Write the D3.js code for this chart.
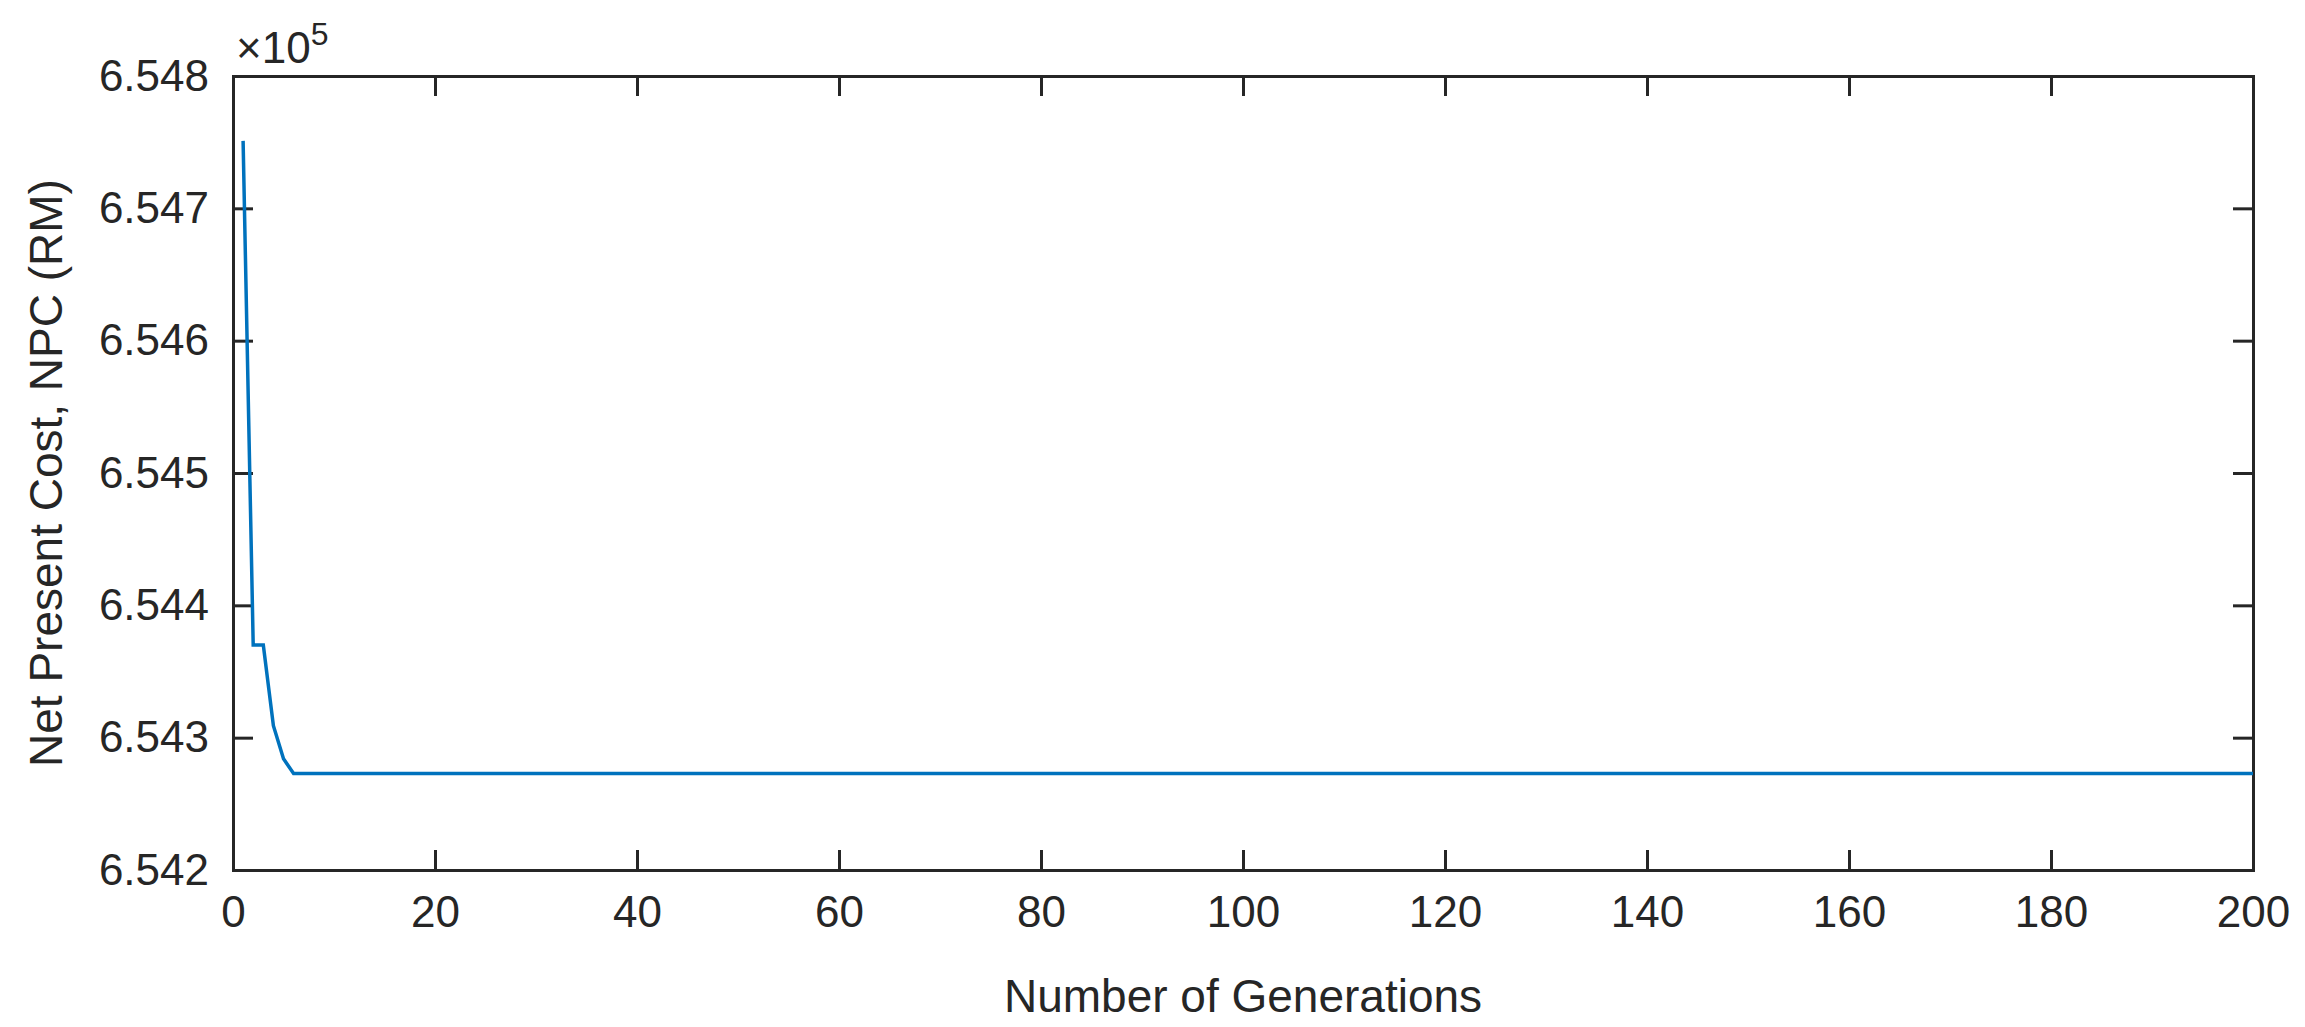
<!DOCTYPE html>
<html><head><meta charset="utf-8">
<script src="https://cdn.jsdelivr.net/npm/d3@7"></script>
<style>body{margin:0;background:#fff}svg{display:block}text{font-family:Arial,"Liberation Sans",sans-serif;fill:#262626}</style>
</head><body>
<script>
const generations = d3.range(1, 201);
const npcHead = [6.54751, 6.5437, 6.5437, 6.54309, 6.54284];
const npcFinal = 6.54273;
const npc = generations.map((g, i) => i < npcHead.length ? npcHead[i] : npcFinal);
const xTicks = [0,20,40,60,80,100,120,140,160,180,200];
const yTicks = [6.542,6.543,6.544,6.545,6.546,6.547,6.548];

const W=2305,H=1027, L=233,R=2253,T=76,B=870;
const svg=d3.select("body").append("svg").attr("width",W).attr("height",H);
const x=d3.scaleLinear().domain([0,200]).range([L,R]);
const y=d3.scaleLinear().domain([6.542,6.548]).range([B,T]);
const col="#262626";
const fs=44;

const xa=svg.append("g").attr("transform",`translate(0,${B})`)
  .call(d3.axisBottom(x).tickValues(xTicks).tickSize(-20).tickPadding(26).tickFormat(d3.format("d")));
const ya=svg.append("g").attr("transform",`translate(${L},0)`)
  .call(d3.axisLeft(y).tickValues(yTicks).tickSize(-20).tickPadding(24).tickFormat(d3.format(".3f")));
svg.append("g").attr("transform",`translate(0,${T})`).call(d3.axisTop(x).tickValues(xTicks).tickSize(-20).tickFormat(""));
svg.append("g").attr("transform",`translate(${R},0)`).call(d3.axisRight(y).tickValues(yTicks).tickSize(-20).tickFormat(""));
svg.selectAll(".domain").attr("stroke",col).attr("stroke-width",3);
svg.selectAll(".tick line").attr("stroke",col).attr("stroke-width",3);
svg.selectAll(".tick text").attr("font-size",fs).style("font-family","Arial,'Liberation Sans',sans-serif").attr("fill",col);

svg.append("path").datum(npc)
  .attr("fill","none").attr("stroke","#0072BD").attr("stroke-width",3.5)
  .attr("d",d3.line().x((d,i)=>x(generations[i])).y(d=>y(d)));

const ex=svg.append("text").attr("x",236).attr("y",63).attr("font-size",fs);
ex.append("tspan").text("×10");
ex.append("tspan").attr("dy",-18).attr("font-size",32).text("5");

svg.append("text").attr("x",(L+R)/2).attr("y",1012).attr("text-anchor","middle").attr("font-size",46).text("Number of Generations");
svg.append("text").attr("transform",`translate(62,${(T+B)/2}) rotate(-90)`).attr("text-anchor","middle").attr("font-size",46).text("Net Present Cost, NPC (RM)");
</script>
</body></html>
